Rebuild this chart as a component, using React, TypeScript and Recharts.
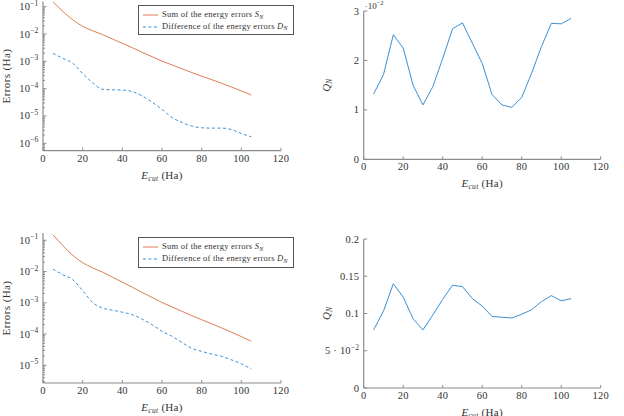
import { LineChart, Line, XAxis, YAxis, Legend } from 'recharts';

const FONT = '"Liberation Serif", "DejaVu Serif", serif';
const AXIS = '#8c8c8c';
const TEXT = '#333';
const ORANGE = '#E07B53';
const BLUE = '#3D8FD0';

// cutoff energies (Ha)
const ecut = [5, 10, 15, 20, 25, 30, 35, 40, 45, 50, 55, 60, 65, 70, 75, 80, 85, 90, 95, 100, 105];

// S_N
const sumErrors = [
    0.151, 0.0676, 0.0331, 0.0191, 0.0132, 0.00955, 0.00661, 0.00457, 0.00316, 0.00214, 0.00148,
    0.00102, 7.41e-4, 5.37e-4, 3.89e-4, 2.88e-4, 2.14e-4, 1.58e-4, 1.15e-4, 8.3e-5, 5.9e-5,
];

// D_N, upper plot
const diffErrorsTop = [
    1.95e-3, 1.29e-3, 8.5e-4, 3.6e-4, 1.66e-4, 9.5e-5, 9.1e-5, 8.9e-5, 7.8e-5, 5.4e-5, 3.2e-5,
    1.74e-5, 8.9e-6, 5.8e-6, 4.3e-6, 3.7e-6, 3.6e-6, 3.6e-6, 3.2e-6, 2.3e-6, 1.74e-6,
];

// D_N, lower plot
const diffErrorsBottom = [
    0.012, 0.0079, 0.0055, 0.00245, 0.00102, 6.8e-4, 5.8e-4, 5.0e-4, 4.2e-4, 3.0e-4, 2.0e-4,
    1.23e-4, 8.5e-5, 5.4e-5, 3.5e-5, 2.8e-5, 2.3e-5, 1.95e-5, 1.5e-5, 1.12e-5, 7.6e-6,
];

// Q_N upper (in units of 10^-2)
const qTop = [
    1.32, 1.71, 2.52, 2.25, 1.5, 1.1, 1.47, 2.04, 2.64, 2.76, 2.35, 1.94, 1.31, 1.1, 1.05, 1.25,
    1.74, 2.28, 2.75, 2.74, 2.85,
];

// Q_N lower
const qBottom = [
    0.078, 0.103, 0.14, 0.122, 0.093, 0.078, 0.098, 0.119, 0.138, 0.136, 0.12, 0.11, 0.096, 0.095,
    0.094, 0.099, 0.105, 0.116, 0.124, 0.117, 0.12,
];

const xTicks = [0, 20, 40, 60, 80, 100, 120];
const qTopTicks = [0, 1, 2, 3];
const qTopTickLabels = ['0', '1', '2', '3'];
const qBottomTicks = [0, 0.05, 0.1, 0.15, 0.2];
const qBottomTickLabels = ['0', '5 · 10^−2', '0.1', '0.15', '0.2'];

const logDomainTop = [5.37e-7, 0.155];
const logDomainBottom = [2.72e-6, 0.171];

const withMinor = (lo: number, hi: number) => {
    const out: number[] = [];
    const e0 = Math.floor(Math.log10(lo));
    const e1 = Math.ceil(Math.log10(hi));
    for (let e = e0; e <= e1; e++) {
        for (let k = 1; k <= 9; k++) {
            const v = k * Math.pow(10, e);
            if (v >= lo && v <= hi) out.push(v);
        }
    }
    return out;
};

const TickText = ({ x, y, label, anchor }: any) => {
    const [base, sup] = label.split('^');
    return (
        <text x={x} y={y} textAnchor={anchor} fontFamily={FONT} fontSize={10.5} fill={TEXT} letterSpacing={0.2}>
            {base}
            {sup && (
                <tspan dy={-4.5} fontSize={7.5}>
                    {sup}
                </tspan>
            )}
        </text>
    );
};

const XTick = ({ x, y, payload }: any) => (
    <g>
        <line x1={x} x2={x} y1={y} y2={y - 3} stroke={AXIS} strokeWidth={1} />
        <TickText x={x} y={y + 11} label={String(payload.value)} anchor="middle" />
    </g>
);

const LogTick = ({ x, y, payload }: any) => {
    const v = payload.value;
    const exp = Math.round(Math.log10(v));
    const major = Math.abs(Math.log10(v) - exp) < 1e-6;
    return (
        <g>
            <line x1={x} x2={x + (major ? 3.5 : 2)} y1={y} y2={y} stroke={AXIS} strokeWidth={1} />
            {major && <TickText x={x - 4.5} y={y + 3.5} label={`10^−${-exp}`} anchor="end" />}
        </g>
    );
};

const makeLinTick = (ticks: number[], labels: string[]) => ({ x, y, payload }: any) => {
    const i = ticks.findIndex((t) => Math.abs(t - payload.value) < 1e-9);
    return (
        <g>
            <line x1={x} x2={x + 3.5} y1={y} y2={y} stroke={AXIS} strokeWidth={1} />
            <TickText x={x - 4.5} y={y + 3.5} label={labels[i] ?? ''} anchor="end" />
        </g>
    );
};

const EcutTitle = ({ viewBox }: any) => {
    const { x, y, width } = viewBox;
    return (
        <text x={x + width / 2} y={y + 28} textAnchor="middle" fontFamily={FONT} fontSize={11} fill={TEXT} letterSpacing={0.3}>
            <tspan fontStyle="italic">E</tspan>
            <tspan fontStyle="italic" fontSize={7.5} dy={2}>
                cut
            </tspan>
            <tspan dy={-2}>{'\u00a0(Ha)'}</tspan>
        </text>
    );
};

const ErrorsTitle = ({ viewBox }: any) => {
    const { y, height } = viewBox;
    const cx = 10;
    const cy = y + height / 2;
    return (
        <text
            x={cx}
            y={cy}
            transform={`rotate(-90, ${cx}, ${cy})`}
            textAnchor="middle"
            fontFamily={FONT}
            fontSize={11}
            fill={TEXT}
            letterSpacing={0.4}
        >
            Errors (Ha)
        </text>
    );
};

const QTitle = ({ viewBox }: any) => {
    const { y, height } = viewBox;
    const cx = 18;
    const cy = y + height / 2;
    return (
        <text x={cx} y={cy} transform={`rotate(-90, ${cx}, ${cy})`} textAnchor="middle" fontFamily={FONT} fontSize={11} fill={TEXT}>
            <tspan fontStyle="italic">Q</tspan>
            <tspan fontStyle="italic" fontSize={7.5} dy={2}>
                N
            </tspan>
        </text>
    );
};

const QScaledTitle = ({ viewBox }: any) => {
    const { x, y, width, height } = viewBox;
    return (
        <g>
            <QTitle viewBox={{ x, y, width, height }} />
            <text x={x + width + 1} y={y - 2.5} fontFamily={FONT} fontSize={9} fill={TEXT}>
                ·10
                <tspan dy={-3.5} fontSize={6.5}>
                    −2
                </tspan>
            </text>
        </g>
    );
};

const Sub = ({ children }: any) => (
    <span style={{ fontSize: 6, fontStyle: 'italic', position: 'relative', top: 1.5 }}>{children}</span>
);

const LegendBox = () => (
    <div
        style={{
            border: '1px solid #555',
            background: '#fff',
            padding: '3px 0 2px 4px',
            fontFamily: FONT,
            fontSize: 8.5,
            letterSpacing: 0.25,
            color: TEXT,
            lineHeight: '10.7px',
            boxSizing: 'border-box',
            width: 156,
            textAlign: 'left',
            whiteSpace: 'nowrap',
        }}
    >
        <div style={{ display: 'flex', alignItems: 'center' }}>
            <svg width={15} height={6}>
                <line x1={0} x2={15} y1={3} y2={3} stroke={ORANGE} strokeWidth={1} />
            </svg>
            <span style={{ marginLeft: 4 }}>
                Sum of the energy errors <i>S</i>
                <Sub>N</Sub>
            </span>
        </div>
        <div style={{ display: 'flex', alignItems: 'center' }}>
            <svg width={15} height={6}>
                <line x1={0} x2={15} y1={3} y2={3} stroke={BLUE} strokeWidth={1} strokeDasharray="3 2.5" />
            </svg>
            <span style={{ marginLeft: 4 }}>
                Difference of the energy errors <i>D</i>
                <Sub>N</Sub>
            </span>
        </div>
    </div>
);

const ErrorPanel = ({ diff, domain, top, plotBottom, xHeight, legendTop }: any) => {
    const data = ecut.map((e, i) => ({ e, s: sumErrors[i], d: diff[i] }));
    return (
        <LineChart
            width={312}
            height={208}
            data={data}
            margin={{ top, right: 31, bottom: 208 - plotBottom - xHeight, left: 0 }}
        >
            <XAxis
                type="number"
                dataKey="e"
                domain={[0, 120]}
                ticks={xTicks}
                interval={0}
                tickSize={0}
                tickMargin={0}
                tickLine={false}
                axisLine={{ stroke: AXIS, strokeWidth: 1.2 }}
                tick={<XTick />}
                height={xHeight}
                label={{ content: <EcutTitle /> }}
            />
            <YAxis
                type="number"
                scale="log"
                domain={domain}
                allowDataOverflow
                ticks={withMinor(domain[0], domain[1])}
                interval={0}
                tickSize={0}
                tickMargin={0}
                tickLine={false}
                axisLine={{ stroke: AXIS, strokeWidth: 1.2 }}
                tick={<LogTick />}
                width={43}
                label={{ content: <ErrorsTitle /> }}
            />
            <Legend
                content={<LegendBox />}
                layout="horizontal"
                verticalAlign="middle"
                wrapperStyle={{ left: 138, top: legendTop, width: 156 }}
            />
            <Line type="monotone" dataKey="s" stroke={ORANGE} strokeWidth={1} dot={false} isAnimationActive={false} />
            <Line
                type="monotone"
                dataKey="d"
                stroke={BLUE}
                strokeWidth={1}
                strokeDasharray="3 2.5"
                dot={false}
                isAnimationActive={false}
            />
        </LineChart>
    );
};

const QPanel = ({ values, domain, ticks, labels, top, plotBottom, xHeight, scaled }: any) => {
    const data = ecut.map((e, i) => ({ e, q: values[i] }));
    const Tick = makeLinTick(ticks, labels);
    return (
        <LineChart
            width={312}
            height={208}
            data={data}
            margin={{ top, right: 23.3, bottom: 208 - plotBottom - xHeight, left: 0 }}
        >
            <XAxis
                type="number"
                dataKey="e"
                domain={[0, 120]}
                ticks={xTicks}
                interval={0}
                tickSize={0}
                tickMargin={0}
                tickLine={false}
                axisLine={{ stroke: AXIS, strokeWidth: 1.2 }}
                tick={<XTick />}
                height={xHeight}
                label={{ content: <EcutTitle /> }}
            />
            <YAxis
                type="number"
                domain={domain}
                allowDataOverflow
                ticks={ticks}
                interval={0}
                tickSize={0}
                tickMargin={0}
                tickLine={false}
                axisLine={{ stroke: AXIS, strokeWidth: 1.2 }}
                tick={<Tick />}
                width={51.7}
                label={{ content: scaled ? <QScaledTitle /> : <QTitle /> }}
            />
            <Line type="linear" dataKey="q" stroke={BLUE} strokeWidth={1} dot={false} isAnimationActive={false} />
        </LineChart>
    );
};

export default function App() {
    return (
        <div style={{ position: 'absolute', left: 0, top: 0, width: 624, height: 416, background: '#fff', overflow: 'hidden' }}>
            <div style={{ position: 'absolute', left: 0, top: 0 }}>
                <ErrorPanel diff={diffErrorsTop} domain={logDomainTop} top={1.5} plotBottom={150.7} xHeight={40} legendTop={5} />
            </div>
            <div style={{ position: 'absolute', left: 312, top: 0 }}>
                <QPanel values={qTop} domain={[0, 3]} ticks={qTopTicks} labels={qTopTickLabels} top={11} plotBottom={159.3} xHeight={40} scaled />
            </div>
            <div style={{ position: 'absolute', left: 0, top: 208 }}>
                <ErrorPanel diff={diffErrorsBottom} domain={logDomainBottom} top={25} plotBottom={175} xHeight={33} legendTop={29.3} />
            </div>
            <div style={{ position: 'absolute', left: 312, top: 208 }}>
                <QPanel values={qBottom} domain={[0, 0.2]} ticks={qBottomTicks} labels={qBottomTickLabels} top={31} plotBottom={180} xHeight={28} />
            </div>
        </div>
    );
}
